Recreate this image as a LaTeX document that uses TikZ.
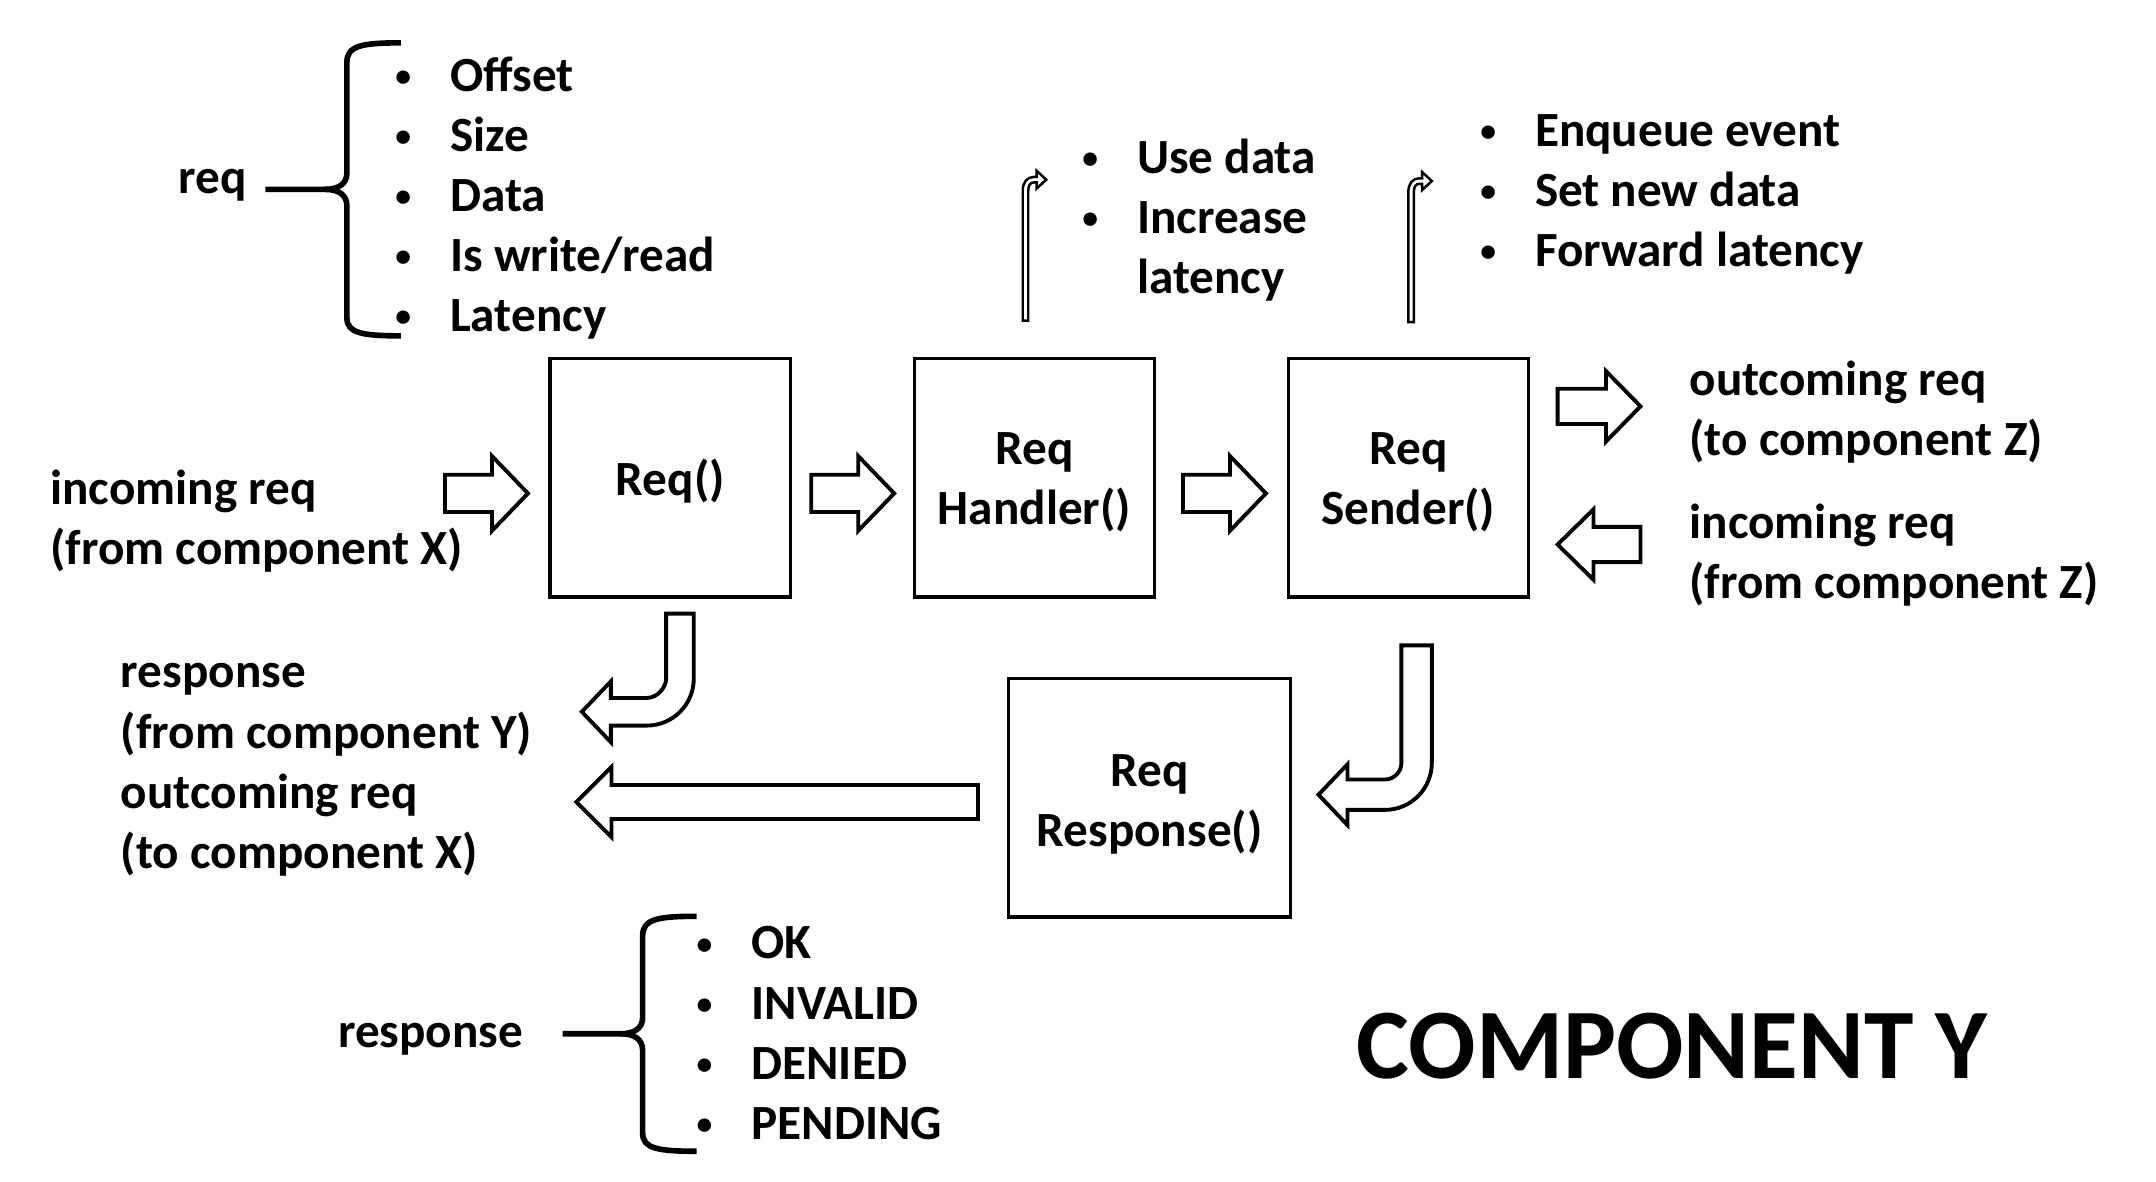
\documentclass[tikz,border=0pt]{standalone}
\usepackage{fontspec}
\setmainfont{Carlito}
\usetikzlibrary{calc}
\def\un{0.013821cm}
\newcommand\ArrR[6]{\draw[blockarrow] (#1,#2-#5) -- (#1+#3-#4,#2-#5) -- (#1+#3-#4,#2-#6) -- (#1+#3,#2) -- (#1+#3-#4,#2+#6) -- (#1+#3-#4,#2+#5) -- (#1,#2+#5) -- cycle;}
\newcommand\ArrL[6]{\draw[blockarrow] (#1+#3,#2-#5) -- (#1+#4,#2-#5) -- (#1+#4,#2-#6) -- (#1,#2) -- (#1+#4,#2+#6) -- (#1+#4,#2+#5) -- (#1+#3,#2+#5) -- cycle;}
\newcommand\SmallBent[2]{\draw[smallarrow] (#1-2,#2) -- (#1-2,#2-94) .. controls (#1-2,#2-100) and (#1+1,#2-104) .. (#1+6,#2-104) -- (#1+8,#2-104) -- (#1+8,#2-108.5) -- (#1+15,#2-102) -- (#1+8,#2-95.5) -- (#1+8,#2-100) -- (#1+6,#2-100) .. controls (#1+3.5,#2-100) and (#1+2,#2-98) .. (#1+2,#2-94) -- (#1+2,#2) -- cycle;}
\newcommand\bl{\makebox[17pt][l]{\hspace*{1.4pt}\raisebox{1.4pt}{\fontsize{9}{9}\selectfont\textbullet}}}
\tikzset{
  txt/.style={font=\bfseries\fontsize{14}{17.1}\selectfont, inner sep=0pt, align=left},
  boxnode/.style={draw, line width=0.9pt, inner sep=0pt},
  boxtext/.style={font=\bfseries\fontsize{14}{17.1}\selectfont, inner sep=0pt, align=center},
  blockarrow/.style={draw, line width=1.1pt, fill=white, line join=miter},
  smallarrow/.style={draw, line width=0.7pt, fill=white},
  bracepath/.style={draw, line width=1.6pt, line cap=butt}
}
\begin{document}
\begin{tikzpicture}[x=0.013821cm, y=-0.013821cm]
\useasboundingbox (0,0) rectangle (1560,855.2);

% boxes
\node[boxnode, minimum width={174*\un}, minimum height={172.5*\un}] (req) at (485,345.75) {};
\node[boxnode, minimum width={173.4*\un}, minimum height={172.5*\un}] (handler) at (748.5,345.75) {};
\node[boxnode, minimum width={174*\un}, minimum height={172.5*\un}] (sender) at (1019,345.75) {};
\node[boxnode, minimum width={203.5*\un}, minimum height={172.5*\un}] (response) at (831.75,577.25) {};
\node[boxtext] (reqtext) at ($(req.center)+(0,2)$) {Req()};
\node[boxtext] (handlertext) at ($(handler.center)+(0,3)$) {Req\\Handler()};
\node[boxtext] (sendertext) at ($(sender.center)+(0,3)$) {Req\\Sender()};
\node[boxtext] (responsetext) at ($(response.center)+(0,4.5)$) {Req\\Response()};

% req brace and list
\node[txt, anchor=east] (reqlabel) at (179,134) {req};
\draw[bracepath] (290,31) .. controls (262,31) and (251,33) .. (251,45) -- (251,125)
  .. controls (251,133) and (245,137) .. (235,137) -- (192,137);
\draw[bracepath] (235,137) .. controls (245,137) and (251,141) .. (251,149) -- (251,230)
  .. controls (251,241) and (262,243) .. (290,243);
\node[txt, anchor=west] (reqlist) at (282,143.5) {\bl Offset\\ \bl Size\\ \bl Data\\ \bl Is write/read\\ \bl Latency};

% handler / sender notes
\SmallBent{742}{232}
\node[txt, anchor=west] (handlerlist) at (779,159.5) {\bl Use data\\ \bl Increase\\ \makebox[17pt]{}latency};
\SmallBent{1021}{233}
\node[txt, anchor=west] (senderlist) at (1067,140.5) {\bl Enqueue event\\ \bl Set new data\\ \bl Forward latency};

% main row arrows
\node[txt, anchor=west] (inX) at (36,377) {incoming req\\(from component X)};
\ArrR{322}{357}{60}{26}{13.5}{27}
\ArrR{587}{357}{60}{26}{13.5}{27}
\ArrR{856}{357}{60}{26}{13.5}{27}

% right side
\ArrR{1127}{294}{60}{25}{12.75}{25.5}
\ArrL{1127}{394}{60}{26}{12.75}{25.5}
\node[txt, anchor=west] (outZ) at (1222,298) {outcoming req\\(to component Z)};
\node[txt, anchor=west] (inZ) at (1222,401.5) {incoming req\\(from component Z)};

% bent arrow from Req() to the left
\draw[blockarrow] (482,444) -- (502,444) -- (502,491) .. controls (502,509.8) and (486.8,525) .. (468,525)
  -- (442,525) -- (442,537) -- (421,515) -- (442,493) -- (442,505) -- (468,505)
  .. controls (475.7,505) and (482,497.3) .. (482,491) -- cycle;
% bent arrow from Sender down to Response
\draw[blockarrow] (1014,467) -- (1036,467) -- (1036,552) .. controls (1036,570.8) and (1020.8,586) .. (1002,586)
  -- (975,586) -- (975,597) -- (954,575) -- (975,553) -- (975,564) -- (1002,564)
  .. controls (1008.6,564) and (1014,558.6) .. (1014,552) -- cycle;
% long left arrow from Response
\ArrL{417}{580.3}{290.6}{25.5}{12.3}{25.5}

\node[txt, anchor=west] (respY) at (87,557) {response\\(from component Y)\\outcoming req\\(to component X)};

% response brace
\node[txt, anchor=east] (resplabel) at (379,752) {response};
\draw[bracepath] (504,663) .. controls (476,663) and (465,665) .. (465,677) -- (465,736)
  .. controls (465,744) and (459,748) .. (449,748) -- (407,748);
\draw[bracepath] (449,748) .. controls (459,748) and (465,752) .. (465,760) -- (465,820)
  .. controls (465,831) and (476,833) .. (504,833);
\node[txt, anchor=west] (resplist) at (500,747.5) {\bl OK\\ \bl INVALID\\ \bl DENIED\\ \bl PENDING};

\node[font=\bfseries\fontsize{28.4}{34}\selectfont, inner sep=0pt, anchor=west] (title) at (981,757) {COMPONENT Y};
\end{tikzpicture}
\end{document}
